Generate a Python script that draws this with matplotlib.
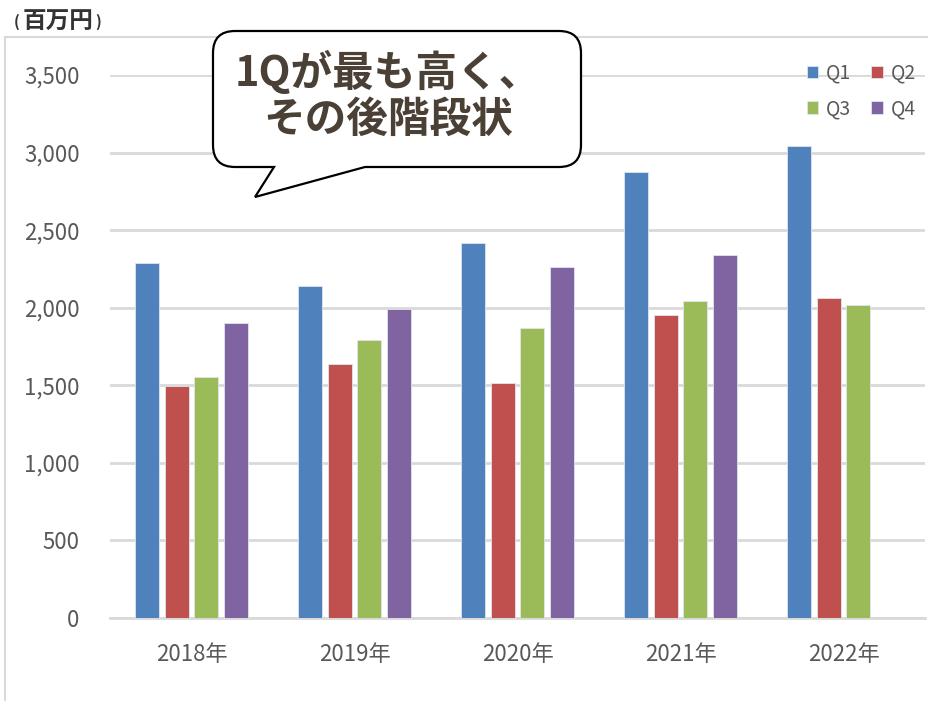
import matplotlib.pyplot as plt
import numpy as np
from matplotlib.path import Path
from matplotlib.patches import PathPatch, Rectangle

plt.rcParams['font.family'] = ['Noto Sans CJK JP', 'DejaVu Sans']

years = ["2018年", "2019年", "2020年", "2021年", "2022年"]
quarters = ["Q1", "Q2", "Q3", "Q4"]
q1 = [2290, 2140, 2420, 2876, 3043]
q2 = [1497, 1638, 1515, 1954, 2063]
q3 = [1555, 1792, 1870, 2044, 2018]
q4 = [1902, 1992, 2263, 2340, np.nan]
yticks = [0, 500, 1000, 1500, 2000, 2500, 3000, 3500]

colors = ["#4F81BD", "#C0504D", "#9BBB59", "#8064A2"]
W, H = 929, 701

fig = plt.figure(figsize=(W / 100, H / 100), dpi=100)
ax = fig.add_axes([110 / W, 1 - 618 / H, 815 / W, (618 - 75) / H])

x = np.arange(len(years))
step = 0.181
width = 0.145
bars = []
for i, (vals, c) in enumerate(zip([q1, q2, q3, q4], colors)):
    b = ax.bar(x + (i - 1.5) * step, vals, width, color=c, edgecolor="#dfe6ee",
               linewidth=0.6, label=quarters[i], zorder=3)
    bars.append(b)

ax.set_xlim(-0.5, len(years) - 0.5)
ax.set_ylim(0, 3500)
ax.set_yticks(yticks)
ax.set_yticklabels([f"{v:,}" for v in yticks])
ax.set_xticks(x)
ax.set_xticklabels(years)
ax.tick_params(length=0, labelsize=16, colors="#595959")
ax.tick_params(axis="y", pad=22)
ax.tick_params(axis="x", pad=18)
ax.grid(axis="y", color="#d9d9d9", linewidth=2, zorder=0)
for s in ["top", "right", "left"]:
    ax.spines[s].set_visible(False)
ax.spines["bottom"].set_color("#d9d9d9")
ax.spines["bottom"].set_linewidth(2)

# legend laid out row by row: Q1 Q2 / Q3 Q4
order = [0, 2, 1, 3]
leg = ax.legend([bars[k] for k in order], [quarters[k] for k in order], ncol=2,
                loc="upper right", bbox_to_anchor=(1.01, 1.055), frameon=False,
                fontsize=14, handlelength=0.6, handleheight=0.6, handletextpad=0.4,
                columnspacing=1.0, labelspacing=0.75)
for t in leg.get_texts():
    t.set_color("#595959")

# outer chart frame
fig.patches.append(Rectangle((5 / W, -0.01), 1.0, 1 - 37 / H + 0.01, transform=fig.transFigure,
                             fill=False, edgecolor="#d9d9d9", linewidth=1.5))

fig.text(14 / W, 1 - 22 / H, "(", fontsize=11, fontweight="bold", color="#333333", va="center")
fig.text(23 / W, 1 - 22 / H, "百万円", fontsize=17, fontweight="bold", color="#333333", va="center")
fig.text(95 / W, 1 - 22 / H, ")", fontsize=11, fontweight="bold", color="#333333", va="center")

# speech bubble
x0, x1, y0, y1, r = 213, 581, 31, 167, 22
pts = [
    ((x0 + r, y0), Path.MOVETO),
    ((x1 - r, y0), Path.LINETO),
    ((x1, y0), Path.CURVE3), ((x1, y0 + r), Path.CURVE3),
    ((x1, y1 - r), Path.LINETO),
    ((x1, y1), Path.CURVE3), ((x1 - r, y1), Path.CURVE3),
    ((365, y1), Path.LINETO),
    ((255, 197), Path.LINETO),
    ((274, y1), Path.LINETO),
    ((x0 + r, y1), Path.LINETO),
    ((x0, y1), Path.CURVE3), ((x0, y1 - r), Path.CURVE3),
    ((x0, y0 + r), Path.LINETO),
    ((x0, y0), Path.CURVE3), ((x0 + r, y0), Path.CURVE3),
    ((x0 + r, y0), Path.CLOSEPOLY),
]
verts = [(px / W, 1 - py / H) for (px, py), _ in pts]
codes = [c for _, c in pts]
fig.patches.append(PathPatch(Path(verts, codes), transform=fig.transFigure,
                             facecolor="white", edgecolor="black", linewidth=1.6, zorder=5))
fig.text(388 / W, 1 - 96 / H, "1Qが最も高く、\nその後階段状", fontsize=30, fontweight="bold",
         color="#4a4035", ha="center", va="center", linespacing=1.1, zorder=6)

fig.savefig("out.png", dpi=100)
